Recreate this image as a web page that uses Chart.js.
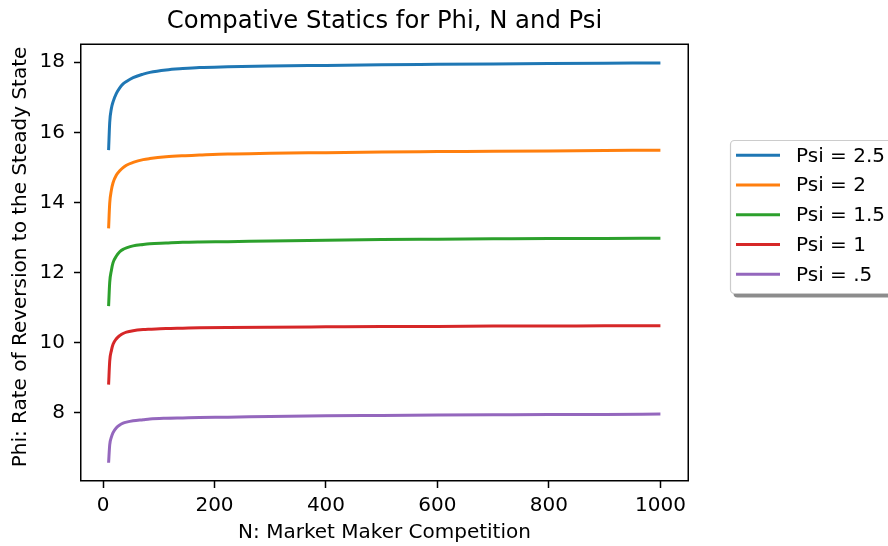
<!DOCTYPE html>
<html>
<head>
<meta charset="utf-8">
<script src="https://cdn.jsdelivr.net/npm/chart.js@4/dist/chart.umd.min.js"></script>
<style>
  html, body { margin: 0; padding: 0; background: #ffffff; }
  #wrap { width: 888px; height: 546px; position: relative; }
</style>
</head>
<body>
<div id="wrap"><canvas id="c" width="888" height="546"></canvas></div>
<script>
// Number of competing market makers
const nValues = [10, 12, 15, 18, 24, 30, 36, 42, 54, 72, 84, 113, 143, 173, 224, 300, 400, 500, 600, 700, 800, 900, 1000];

// Phi (rate of reversion) for each Psi
const phiPsi25 = [15.49, 16.28, 16.68, 16.87, 17.11, 17.27, 17.38, 17.45, 17.56, 17.66, 17.71, 17.78, 17.82, 17.85, 17.87, 17.89, 17.91, 17.93, 17.94, 17.95, 17.96, 17.97, 17.98];
const phiPsi20 = [13.26, 13.97, 14.35, 14.56, 14.78, 14.90, 14.99, 15.06, 15.14, 15.22, 15.25, 15.30, 15.33, 15.35, 15.38, 15.40, 15.42, 15.44, 15.45, 15.46, 15.47, 15.48, 15.49];
const phiPsi15 = [11.04, 11.72, 12.06, 12.28, 12.47, 12.59, 12.66, 12.70, 12.76, 12.80, 12.82, 12.84, 12.86, 12.87, 12.88, 12.90, 12.92, 12.94, 12.95, 12.96, 12.97, 12.97, 12.98];
const phiPsi10 = [8.80, 9.47, 9.77, 9.95, 10.11, 10.20, 10.26, 10.30, 10.34, 10.37, 10.38, 10.40, 10.41, 10.42, 10.43, 10.44, 10.45, 10.46, 10.46, 10.47, 10.47, 10.48, 10.48];
const phiPsi05 = [6.57, 7.08, 7.30, 7.43, 7.57, 7.65, 7.70, 7.73, 7.77, 7.80, 7.82, 7.84, 7.85, 7.86, 7.87, 7.89, 7.91, 7.92, 7.93, 7.94, 7.95, 7.95, 7.96];

const seriesLabels = ['Psi = 2.5', 'Psi = 2', 'Psi = 1.5', 'Psi = 1', 'Psi = .5'];
const seriesValues = [phiPsi25, phiPsi20, phiPsi15, phiPsi10, phiPsi05];
const seriesColors = ['#1f77b4', '#ff7f0e', '#2ca02c', '#d62728', '#9467bd'];

const xTickValues = [0, 200, 400, 600, 800, 1000];
const yTickValues = [8, 10, 12, 14, 16, 18];

const chartTitle = 'Compative Statics for Phi, N and Psi';
const xAxisTitle = 'N: Market Maker Competition';
const yAxisTitle = 'Phi: Rate of Reversion to the Steady State';

const FONT = 'DejaVu Sans';
const TEXT_SIZE = 20;
const TITLE_SIZE = 24.3;

const datasets = seriesValues.map((vals, k) => ({
  label: seriesLabels[k],
  data: nValues.map((n, i) => ({ x: n, y: vals[i] })),
  borderColor: seriesColors[k],
  backgroundColor: seriesColors[k],
  borderWidth: 3,
  pointRadius: 0,
  fill: false,
  cubicInterpolationMode: 'monotone'
}));

// Full black frame around the plotting area
const frame = {
  id: 'frame',
  afterDatasetsDraw(chart) {
    const { ctx, chartArea: a } = chart;
    ctx.save();
    ctx.strokeStyle = '#000000';
    ctx.lineWidth = 1.5;
    ctx.strokeRect(Math.round(a.left) - 0.25, Math.round(a.top) + 0.25,
                   Math.round(a.right - a.left) + 0.5, Math.round(a.bottom - a.top) - 0.5);
    ctx.restore();
  }
};

// Chart title centred over the plotting area, and the rotated y-axis title
const titles = {
  id: 'titles',
  afterDraw(chart) {
    const { ctx, chartArea: a } = chart;
    ctx.save();
    ctx.fillStyle = '#000000';
    ctx.textAlign = 'center';
    ctx.textBaseline = 'middle';
    ctx.font = TITLE_SIZE + 'px "' + FONT + '"';
    ctx.fillText(chartTitle, (a.left + a.right) / 2, 22);
    ctx.translate(21, 257);
    ctx.rotate(-Math.PI / 2);
    ctx.font = TEXT_SIZE + 'px "' + FONT + '"';
    ctx.fillText(yAxisTitle, 0, 0);
    ctx.restore();
  }
};

// Legend box placed to the right of the plot, with a drop shadow
const sideLegend = {
  id: 'sideLegend',
  afterDraw(chart) {
    const { ctx } = chart;
    const bx = 730.5, by = 140.5, bw = 175, bh = 153, r = 4;
    const rr = (x, y, w, h) => {
      ctx.beginPath();
      ctx.moveTo(x + r, y);
      ctx.lineTo(x + w - r, y);
      ctx.arcTo(x + w, y, x + w, y + r, r);
      ctx.lineTo(x + w, y + h - r);
      ctx.arcTo(x + w, y + h, x + w - r, y + h, r);
      ctx.lineTo(x + r, y + h);
      ctx.arcTo(x, y + h, x, y + h - r, r);
      ctx.lineTo(x, y + r);
      ctx.arcTo(x, y, x + r, y, r);
      ctx.closePath();
    };
    ctx.save();
    rr(bx + 3, by + 4, bw, bh);
    ctx.fillStyle = 'rgba(0,0,0,0.45)';
    ctx.fill();
    rr(bx, by, bw, bh);
    ctx.fillStyle = '#ffffff';
    ctx.fill();
    ctx.strokeStyle = '#cccccc';
    ctx.lineWidth = 1.2;
    ctx.stroke();
    ctx.font = TEXT_SIZE + 'px "' + FONT + '"';
    ctx.textBaseline = 'middle';
    ctx.textAlign = 'left';
    chart.data.datasets.forEach((ds, i) => {
      const y = 155.3 + i * 29.75;
      ctx.strokeStyle = ds.borderColor;
      ctx.lineWidth = 3;
      ctx.beginPath();
      ctx.moveTo(736, y);
      ctx.lineTo(780, y);
      ctx.stroke();
      ctx.fillStyle = '#000000';
      ctx.fillText(ds.label, 796, y + 1);
    });
    ctx.restore();
  }
};

new Chart(document.getElementById('c'), {
  type: 'line',
  data: { datasets },
  plugins: [frame, titles, sideLegend],
  options: {
    responsive: false,
    animation: false,
    devicePixelRatio: 1,
    layout: { padding: { left: 0, right: 200, top: 44, bottom: 0 } },
    plugins: {
      legend: { display: false },
      tooltip: { enabled: false },
      title: { display: false }
    },
    scales: {
      x: {
        type: 'linear',
        min: -39.5,
        max: 1049.5,
        afterFit(scale) { scale.height = 65; },
        afterBuildTicks(scale) { scale.ticks = xTickValues.map(v => ({ value: v })); },
        border: { display: false },
        grid: { display: true, drawOnChartArea: false, drawTicks: true, tickLength: 7, tickColor: '#000000', tickWidth: 1.5 },
        ticks: {
          color: '#000000', font: { family: FONT, size: TEXT_SIZE }, padding: 5.5,
          maxRotation: 0, autoSkip: false, callback: v => String(v)
        },
        title: {
          display: true,
          text: xAxisTitle,
          color: '#000000',
          font: { family: FONT, size: TEXT_SIZE },
          padding: { top: 0, bottom: 1.5 }
        }
      },
      y: {
        type: 'linear',
        min: 6.05,
        max: 18.52,
        afterFit(scale) { scale.width = 81; },
        afterBuildTicks(scale) { scale.ticks = yTickValues.map(v => ({ value: v })); },
        border: { display: false },
        grid: { display: true, drawOnChartArea: false, drawTicks: true, tickLength: 7, tickColor: '#000000', tickWidth: 1.5 },
        ticks: {
          color: '#000000', font: { family: FONT, size: TEXT_SIZE }, padding: 9,
          autoSkip: false, callback: v => String(v)
        },
        title: { display: false }
      }
    }
  }
});
</script>
</body>
</html>
